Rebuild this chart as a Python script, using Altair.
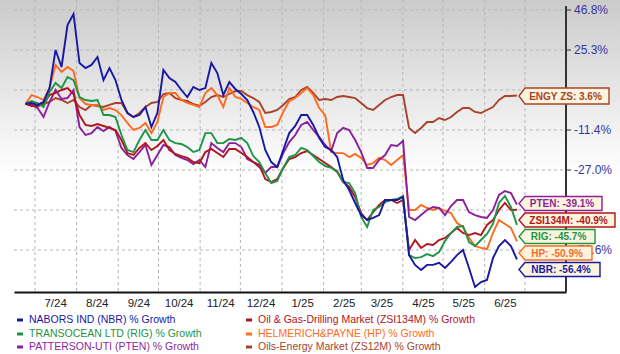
import altair as alt
import pandas as pd

# ---------------- data ----------------
dates = [d.strftime("%Y-%m-%dT%H:%M") for d in pd.date_range("2024-06-24", "2025-06-25", periods=83)]

nbr = [0, 0.35, -0.5, 0.8, 6.95, 25.3, 17.1, 38.7, 44.65, 19.0,
       16.6, 18.1, 21.9, 10.8, 16.6, 10.8, 1.65, -4.0, -5.75, -4.9,
       -1.4, -10.1, -4.0, 15.65, 11.8, 9.85, 6.0, 2.95, 7.45, 6.0,
       6.95, 19.0, 14.2, 3.8, 9.85, 6.5, 4.25, 1.65, -3.55, -10.1,
       -19.2, -23.9, -25.85, -19.2, -12.6, -9.65, -4.9, -4.9, -9.2, -14.5,
       -18.05, -19.2, -21.95, -30.5, -34.0, -38.55, -42.6, -44.15, -43.5, -42.6,
       -37.5, -37.5, -37.5, -36.45, -55.1, -58.0, -59.5, -58.0, -58.0, -57.4,
       -58.9, -57.1, -55.1, -53.6, -58.9, -64.5, -63.05, -62.45, -56.0, -52.35,
       -50.45, -52.35, -56.4]
hp = [0, 3.8, 2.95, 1.65, 6.95, 18.1, 14.7, 17.1, 15.2, 2.5,
      -0.1, -0.5, -0.5, -2.7, -1.85, -2.7, -4.9, -8.35, -11.4, -10.5,
      -8.35, -12.6, -7.9, 2.95, 4.7, 4.7, 1.65, 0.35, -0.5, -1.4,
      4.7, 6.95, 3.8, -1.4, 6.95, 2.95, 2.1, 0.35, -1.4, -2.7,
      -10.1, -10.1, -9.2, -3.55, 1.2, 2.5, 4.7, 6.95, 3.8, -1.85,
      -4.9, -20.0, -20.4, -20.4, -21.95, -20.75, -22.3, -25.05, -24.3, -22.3,
      -23.1, -25.05, -23.1, -21.15, -41.0, -41.0, -39.25, -40.3, -41.0, -40.3,
      -41.3, -41.95, -45.1, -46.35, -49.8, -52.35, -52.95, -53.3, -48.25, -44.15,
      -45.4, -46.65, -50.9]
rig = [0, 1.2, 0.35, -1.4, 5.1, 9.4, 6.95, 12.3, 10.8, 2.95,
       1.65, 1.2, 1.65, -4.9, -4.9, -5.75, -13.35, -19.2, -20.0, -15.3,
       -11.4, -15.3, -15.3, -11.4, -15.3, -16.5, -16.85, -18.05, -20.0, -19.2,
       -12.6, -12.6, -16.5, -16.5, -14.9, -15.3, -14.5, -16.5, -21.55, -23.9,
       -28.05, -31.55, -30.85, -26.2, -21.95, -21.15, -18.4, -19.2, -21.55, -23.9,
       -25.45, -26.2, -27.35, -31.2, -31.55, -35.05, -43.2, -46.35, -41.0, -39.95,
       -38.2, -37.5, -37.15, -36.1, -55.1, -56.0, -55.7, -54.8, -55.4, -54.2,
       -50.75, -48.25, -46.35, -46.05, -51.1, -52.35, -50.45, -48.55, -45.4, -38.55,
       -36.1, -39.95, -45.7]
pten = [0, -0.5, -1.85, -5.75, 0.8, 6.0, 2.1, 2.5, 6.0, -10.1,
        -13.35, -12.6, -10.1, -11.8, -10.1, -11.8, -18.4, -21.15, -22.7, -20.0,
        -17.25, -25.05, -21.15, -17.25, -18.05, -21.15, -22.3, -23.1, -24.7, -23.1,
        -25.85, -16.5, -18.4, -20.0, -16.5, -16.5, -18.05, -22.7, -23.9, -25.85,
        -28.05, -25.85, -25.85, -20.4, -16.1, -13.35, -9.2, -7.9, -11.4, -14.1,
        -17.25, -19.6, -12.6, -10.5, -11.4, -15.3, -20.0, -26.2, -26.2, -23.1,
        -21.15, -17.25, -17.65, -15.7, -43.2, -44.15, -42.6, -41.0, -39.95, -40.3,
        -42.6, -39.6, -37.5, -37.5, -41.65, -42.6, -43.2, -43.5, -41.0, -35.75,
        -34.35, -35.05, -39.1]
zsi134m = [0, -0.95, -0.95, -0.1, 3.8, 4.7, 6.0, 6.95, 4.25, -4.9,
           -9.2, -9.65, -8.8, -9.65, -10.5, -11.4, -15.3, -20.4, -21.15, -18.4,
           -16.5, -19.2, -17.65, -15.3, -19.2, -20.75, -21.55, -22.3, -23.9, -24.3,
           -20.0, -18.8, -20.4, -21.95, -18.8, -18.8, -20.4, -21.95, -23.9, -25.05,
           -30.15, -31.2, -30.15, -26.2, -22.7, -21.95, -20.4, -19.6, -21.15, -22.7,
           -24.3, -25.85, -27.7, -31.2, -32.95, -36.45, -41.95, -44.15, -41.65, -39.25,
           -37.5, -37.5, -38.55, -37.5, -53.6, -50.45, -52.95, -51.7, -52.0, -50.45,
           -49.8, -48.25, -46.65, -48.25, -48.9, -48.25, -48.9, -45.7, -44.15, -41.0,
           -38.55, -41.0, -40.9]
zs12m = [0, -0.5, -0.95, -0.1, 0.8, 2.5, 1.65, 0.35, 1.65, -1.4,
         -2.7, -0.5, -0.95, -1.4, -0.5, 0.35, 0.35, -4.0, -5.75, -4.0,
         -1.4, 0.35, 0.8, 4.25, 4.7, 2.5, 1.65, 1.2, -0.1, -0.95,
         0.8, 2.95, 3.8, 2.95, 4.25, 5.55, 5.55, 3.8, 2.5, 0.8,
         -4.0, -3.55, -2.7, -0.5, 2.1, 2.95, 6.0, 7.45, 4.7, 1.65,
         2.1, 1.65, 2.95, 3.4, 2.95, 2.5, 0.35, -1.85, -2.7, -0.5,
         1.65, 2.95, 3.8, 3.8, -10.5, -12.6, -10.5, -7.9, -7.9, -6.2,
         -7.05, -5.75, -3.55, -1.85, -1.85, -3.55, -4.0, -2.7, -1.4, 1.65,
         3.4, 3.4, 3.6]

series_keys = ["ZS12M", "HP", "PTEN", "ZSI134M", "RIG", "NBR"]
series_vals = [zs12m, hp, pten, zsi134m, rig, nbr]
series_colors = ["#a8432b", "#ff6a1c", "#8c1f9c", "#b3151c", "#1f9446", "#1818a4"]

legend_left = ["NABORS IND (NBR) % Growth", "TRANSOCEAN LTD (RIG) % Growth", "PATTERSON-UTI (PTEN) % Growth"]
legend_left_keys = ["NBR", "RIG", "PTEN"]
legend_right = ["Oil & Gas-Drilling Market (ZSI134M) % Growth", "HELMERICH&PAYNE (HP) % Growth",
                "Oils-Energy Market (ZS12M) % Growth"]
legend_right_keys = ["ZSI134M", "HP", "ZS12M"]

callout_texts = ["ENGY ZS: 3.6%", "PTEN: -39.1%", "ZSI134M: -40.9%", "RIG: -45.7%", "HP: -50.9%", "NBR: -56.4%"]
callout_keys = ["ZS12M", "PTEN", "ZSI134M", "RIG", "HP", "NBR"]

# grid positions (all ticks) and the tick labels that are not hidden behind the callouts
y_tick_values = [46.8, 25.3, 6.0, -11.4, -27.0, -41.0, -53.6]
y_label_values = [46.8, 25.3, -11.4, -27.0, -53.6]
y_label_texts = ["46.8%", "25.3%", "-11.4%", "-27.0%", "-53.6%"]

month_starts = ["2024-07-01T00:00", "2024-08-01T00:00", "2024-09-01T00:00", "2024-10-01T00:00",
                "2024-11-01T00:00", "2024-12-01T00:00", "2025-01-01T00:00", "2025-02-01T00:00",
                "2025-03-01T00:00", "2025-04-01T00:00", "2025-05-01T00:00", "2025-06-01T00:00",
                "2025-07-01T00:00"]
label_months = [(2024, 7), (2024, 8), (2024, 9), (2024, 10), (2024, 11), (2024, 12),
                (2025, 1), (2025, 2), (2025, 3), (2025, 4), (2025, 5), (2025, 6)]

# ---------------- layout ----------------
W, H = 552, 292
FONT = "Liberation Sans"
color_of = dict(zip(series_keys, series_colors))

rows = []
for key, vals in zip(series_keys, series_vals):
    for d, v in zip(dates, vals):
        rows.append({"date": d, "value": v, "series": key})
df = pd.DataFrame(rows)

yscale = alt.Scale(domain=[-66, -53.6, -41.0, -27.0, -11.4, 6.0, 25.3, 46.8, 52.2],
                   range=[292, 250, 210, 170, 130, 90, 50, 10, 0], nice=False, zero=False)
xscale = alt.Scale(domain=[alt.DateTime(year=2024, month=6, date=15, hours=9),
                           alt.DateTime(year=2025, month=7, date=31, hours=13)], nice=False)
xaxis = alt.Axis(values=[alt.DateTime(year=y, month=m, date=16) for y, m in label_months],
                 labelExpr="timeFormat(datum.value, '%-m/%y')", ticks=False, grid=False,
                 domainColor="#111111", domainWidth=2, labelFontSize=11.5, labelColor="#222222",
                 labelFont=FONT, labelPadding=5, title=None, labelOverlap=False, labelFlush=False)

one = pd.DataFrame({"a": [0]})
layers = []

# background gradient
layers.append(alt.Chart(one).mark_rect(
    color=alt.Gradient(gradient="linear",
                       stops=[alt.GradientStop(color="#cbcbcb", offset=0),
                              alt.GradientStop(color="#ffffff", offset=1)],
                       x1=0, x2=0, y1=0, y2=1)
).encode(x=alt.value(-14), x2=alt.value(606), y=alt.value(0), y2=alt.value(175)))

# grid
tick_df = pd.DataFrame({"v": y_tick_values})
label_df = pd.DataFrame({"v": y_label_values, "label": y_label_texts})
layers.append(alt.Chart(tick_df).mark_rule(color="#b5b5b5", strokeDash=[3, 3], strokeWidth=1).encode(
    y=alt.Y("v:Q", scale=yscale, axis=None), x=alt.value(0), x2=alt.value(W)))
grid_df = pd.DataFrame({"date": month_starts})
layers.append(alt.Chart(grid_df).mark_rule(color="#b5b5b5", strokeDash=[3, 3], strokeWidth=1).encode(
    x=alt.X("date:T", scale=xscale, axis=xaxis), y=alt.value(0), y2=alt.value(H)))

# right axis: line, ticks, labels
layers.append(alt.Chart(one).mark_rule(color="#333333", strokeWidth=2).encode(
    x=alt.value(W), y=alt.value(6), y2=alt.value(H)))
layers.append(alt.Chart(tick_df).mark_rule(color="#333333", strokeWidth=1).encode(
    y=alt.Y("v:Q", scale=yscale, axis=None), x=alt.value(W), x2=alt.value(W + 5)))
layers.append(alt.Chart(label_df).mark_text(align="left", baseline="middle", fontSize=12, font=FONT,
                                            color="#3636a0").encode(
    y=alt.Y("v:Q", scale=yscale, axis=None), x=alt.value(W + 8), text="label:N"))

# series lines
for key in series_keys:
    layers.append(alt.Chart(df).transform_filter(alt.datum.series == key).mark_line(
        color=color_of[key], strokeWidth=1.9).encode(
        x=alt.X("date:T", scale=xscale, axis=xaxis),
        y=alt.Y("value:Q", scale=yscale, axis=None)))

# callouts (end-of-line labels)
tip_x = 505
callout_y = [96, 203.5, 220, 236.5, 253, 269.5]
callout_w = [90, 83, 96, 76, 73, 81]
callout_h = [16, 14, 14, 14, 14, 14]
arrow = 6
for txt, key, cy, bw, bh in zip(callout_texts, callout_keys, callout_y, callout_w, callout_h):
    s = 2.0 / bw
    hy = bh / 2 * s
    ax = -1 + arrow * s
    path = f"M -1 0 L {ax:.4f} {-hy:.4f} L 1 {-hy:.4f} L 1 {hy:.4f} L {ax:.4f} {hy:.4f} Z"
    cx = tip_x + bw / 2
    layers.append(alt.Chart(one).mark_point(shape=path, size=bw * bw, fill="#fcf4dd", stroke=color_of[key],
                                            strokeWidth=1.4, opacity=1, fillOpacity=1).encode(
        x=alt.value(cx), y=alt.value(cy)))
    layers.append(alt.Chart(one).mark_text(text=txt, align="center", baseline="middle", fontSize=10,
                                           fontWeight="bold", font=FONT, color=color_of[key]).encode(
        x=alt.value(cx + 1.5), y=alt.value(cy + 0.5)))

# legend
legend_rows_y = [320, 334, 347]
for col_x, names, keys in [(3, legend_left, legend_left_keys), (232, legend_right, legend_right_keys)]:
    for ry, name, key in zip(legend_rows_y, names, keys):
        layers.append(alt.Chart(one).mark_rule(color=color_of[key], strokeWidth=3).encode(
            x=alt.value(col_x), x2=alt.value(col_x + 6), y=alt.value(ry)))
        layers.append(alt.Chart(one).mark_text(text=name, align="left", baseline="middle", fontSize=10.5,
                                               font=FONT, color=color_of[key]).encode(
            x=alt.value(col_x + 12), y=alt.value(ry)))

chart = alt.layer(*layers).properties(
    width=W, height=H,
    padding={"left": 14, "top": 0, "right": 54, "bottom": 62},
    autosize=alt.AutoSizeParams(type="none"),
    background="white",
).configure_view(stroke=None)

chart.save("out.html", embed_options={"renderer": "svg", "actions": False})
